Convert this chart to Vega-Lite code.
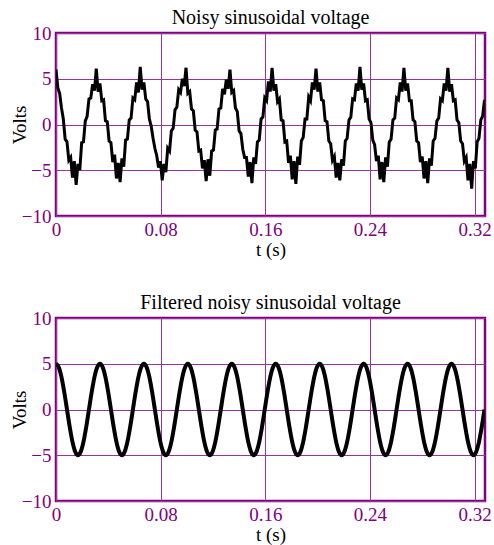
{
"$schema": "https://vega.github.io/schema/vega-lite/v6.json",
"padding": {"left": 9, "top": 6, "right": 6, "bottom": 0},
"spacing": 30,
"config": {
  "font": "Liberation Serif",
  "view": {"stroke": "#800080", "strokeWidth": 2.5},
  "axis": {"labelFont": "Liberation Serif", "labelFontSize": 19, "labelColor": "#800080", "titleFont": "Liberation Serif", "titleFontSize": 19, "titleFontWeight": "normal", "titleColor": "black", "ticks": false, "tickSize": 0, "domain": false, "gridColor": "#993399", "gridOpacity": 1, "gridWidth": 1, "labelFlush": false, "labelOverlap": false},
  "title": {"font": "Liberation Serif", "fontSize": 20, "fontWeight": "normal", "color": "black", "offset": -4, "frame": "group", "anchor": "middle"}
},
"vconcat": [
{
  "title": "Noisy sinusoidal voltage",
  "width": 429, "height": 183,
  "data": {"values": [
{"t":0,"v":6.0},{"t":0.0014,"v":4.0},{"t":0.0028,"v":3.4},{"t":0.0042,"v":1.8},{"t":0.0056,"v":0.6},{"t":0.007,"v":-1.6},{"t":0.0084,"v":-1.9},{"t":0.0098,"v":-3.9},{"t":0.0112,"v":-3.6},{"t":0.0126,"v":-5.8},
{"t":0.014,"v":-4.0},{"t":0.0154,"v":-6.6},{"t":0.0168,"v":-4.3},{"t":0.0182,"v":-5.0},{"t":0.0196,"v":-2.0},{"t":0.021,"v":-1.9},{"t":0.0224,"v":0.4},{"t":0.0238,"v":0.9},{"t":0.0252,"v":2.8},{"t":0.0266,"v":2.9},
{"t":0.028,"v":4.4},{"t":0.0294,"v":3.7},{"t":0.0308,"v":6.1},{"t":0.0322,"v":3.6},{"t":0.0336,"v":4.5},{"t":0.035,"v":2.6},{"t":0.0364,"v":2.7},{"t":0.0378,"v":0.4},{"t":0.0392,"v":0.3},{"t":0.0406,"v":-1.8},
{"t":0.042,"v":-2.0},{"t":0.0434,"v":-4.1},{"t":0.0448,"v":-3.3},{"t":0.0462,"v":-5.9},{"t":0.0476,"v":-4.2},{"t":0.049,"v":-6.3},{"t":0.0504,"v":-3.7},{"t":0.0518,"v":-4.6},{"t":0.0532,"v":-1.7},{"t":0.0546,"v":-1.6},
{"t":0.056,"v":0.5},{"t":0.0574,"v":0.7},{"t":0.0588,"v":2.9},{"t":0.0602,"v":2.7},{"t":0.0616,"v":4.6},{"t":0.063,"v":3.5},{"t":0.0644,"v":6.3},{"t":0.0658,"v":3.8},{"t":0.0672,"v":4.6},{"t":0.0686,"v":2.8},
{"t":0.07,"v":2.5},{"t":0.0714,"v":0.6},{"t":0.0728,"v":-0.2},{"t":0.0742,"v":-1.5},{"t":0.0756,"v":-2.6},{"t":0.077,"v":-3.4},{"t":0.0784,"v":-4.7},{"t":0.0798,"v":-4.0},{"t":0.0812,"v":-6.1},{"t":0.0826,"v":-4.3},
{"t":0.084,"v":-5.2},{"t":0.0854,"v":-2.6},{"t":0.0868,"v":-2.9},{"t":0.0882,"v":-0.7},{"t":0.0896,"v":-0.4},{"t":0.091,"v":1.6},{"t":0.0924,"v":1.9},{"t":0.0938,"v":3.8},{"t":0.0952,"v":3.5},{"t":0.0966,"v":5.0},
{"t":0.098,"v":4.2},{"t":0.0994,"v":6.2},{"t":0.1008,"v":3.4},{"t":0.1022,"v":3.6},{"t":0.1036,"v":1.7},{"t":0.105,"v":1.5},{"t":0.1064,"v":-0.6},{"t":0.1078,"v":-0.8},{"t":0.1092,"v":-2.9},{"t":0.1106,"v":-2.8},
{"t":0.112,"v":-4.8},{"t":0.1134,"v":-3.9},{"t":0.1148,"v":-6.2},{"t":0.1162,"v":-3.8},{"t":0.1176,"v":-5.6},{"t":0.119,"v":-2.9},{"t":0.1204,"v":-2.8},{"t":0.1218,"v":-0.6},{"t":0.1232,"v":-0.5},{"t":0.1246,"v":1.7},
{"t":0.126,"v":1.8},{"t":0.1274,"v":3.9},{"t":0.1288,"v":3.3},{"t":0.1302,"v":4.9},{"t":0.1316,"v":3.9},{"t":0.133,"v":6.0},{"t":0.1344,"v":3.5},{"t":0.1358,"v":3.7},{"t":0.1372,"v":1.8},{"t":0.1386,"v":1.4},
{"t":0.14,"v":-0.7},{"t":0.1414,"v":-1.0},{"t":0.1428,"v":-2.7},{"t":0.1442,"v":-3.6},{"t":0.1456,"v":-3.6},{"t":0.147,"v":-5.7},{"t":0.1484,"v":-4.1},{"t":0.1498,"v":-6.4},{"t":0.1512,"v":-3.6},{"t":0.1526,"v":-4.3},
{"t":0.154,"v":-1.9},{"t":0.1554,"v":-1.7},{"t":0.1568,"v":0.6},{"t":0.1582,"v":0.8},{"t":0.1596,"v":2.9},{"t":0.161,"v":2.6},{"t":0.1624,"v":4.7},{"t":0.1638,"v":3.6},{"t":0.1652,"v":6.2},{"t":0.1666,"v":3.7},
{"t":0.168,"v":4.4},{"t":0.1694,"v":2.5},{"t":0.1708,"v":2.8},{"t":0.1722,"v":0.5},{"t":0.1736,"v":0.4},{"t":0.175,"v":-1.9},{"t":0.1764,"v":-1.8},{"t":0.1778,"v":-4.2},{"t":0.1792,"v":-3.4},{"t":0.1806,"v":-6.0},
{"t":0.182,"v":-4.0},{"t":0.1834,"v":-6.5},{"t":0.1848,"v":-3.5},{"t":0.1862,"v":-4.4},{"t":0.1876,"v":-1.8},{"t":0.189,"v":-1.4},{"t":0.1904,"v":0.6},{"t":0.1918,"v":0.6},{"t":0.1932,"v":3.0},{"t":0.1946,"v":2.6},
{"t":0.196,"v":4.6},{"t":0.1974,"v":3.8},{"t":0.1988,"v":6.1},{"t":0.2002,"v":3.6},{"t":0.2016,"v":4.6},{"t":0.203,"v":2.7},{"t":0.2044,"v":2.6},{"t":0.2058,"v":0.4},{"t":0.2072,"v":0.3},{"t":0.2086,"v":-1.8},
{"t":0.21,"v":-2.1},{"t":0.2114,"v":-3.9},{"t":0.2128,"v":-3.5},{"t":0.2142,"v":-5.8},{"t":0.2156,"v":-4.2},{"t":0.217,"v":-6.1},{"t":0.2184,"v":-3.8},{"t":0.2198,"v":-4.5},{"t":0.2212,"v":-1.8},{"t":0.2226,"v":-1.5},
{"t":0.224,"v":0.5},{"t":0.2254,"v":0.8},{"t":0.2268,"v":2.8},{"t":0.2282,"v":2.7},{"t":0.2296,"v":4.5},{"t":0.231,"v":3.7},{"t":0.2324,"v":6.3},{"t":0.2338,"v":3.8},{"t":0.2352,"v":4.5},{"t":0.2366,"v":2.6},
{"t":0.238,"v":2.7},{"t":0.2394,"v":0.6},{"t":0.2408,"v":0.2},{"t":0.2422,"v":-1.7},{"t":0.2436,"v":-2.2},{"t":0.245,"v":-4.0},{"t":0.2464,"v":-3.4},{"t":0.2478,"v":-6.0},{"t":0.2492,"v":-4.1},{"t":0.2506,"v":-6.3},
{"t":0.252,"v":-3.6},{"t":0.2534,"v":-4.6},{"t":0.2548,"v":-1.9},{"t":0.2562,"v":-1.6},{"t":0.2576,"v":0.5},{"t":0.259,"v":0.7},{"t":0.2604,"v":2.9},{"t":0.2618,"v":2.7},{"t":0.2632,"v":4.6},{"t":0.2646,"v":3.6},
{"t":0.266,"v":6.2},{"t":0.2674,"v":3.7},{"t":0.2688,"v":4.5},{"t":0.2702,"v":2.6},{"t":0.2716,"v":2.6},{"t":0.273,"v":0.5},{"t":0.2744,"v":0.3},{"t":0.2758,"v":-1.8},{"t":0.2772,"v":-2.0},{"t":0.2786,"v":-4.1},
{"t":0.28,"v":-3.5},{"t":0.2814,"v":-5.9},{"t":0.2828,"v":-4.0},{"t":0.2842,"v":-6.4},{"t":0.2856,"v":-3.7},{"t":0.287,"v":-4.5},{"t":0.2884,"v":-1.8},{"t":0.2898,"v":-1.5},{"t":0.2912,"v":0.4},{"t":0.2926,"v":0.7},
{"t":0.294,"v":2.8},{"t":0.2954,"v":2.6},{"t":0.2968,"v":4.5},{"t":0.2982,"v":3.7},{"t":0.2996,"v":6.2},{"t":0.301,"v":3.6},{"t":0.3024,"v":4.4},{"t":0.3038,"v":2.6},{"t":0.3052,"v":2.7},{"t":0.3066,"v":0.5},
{"t":0.308,"v":0.2},{"t":0.3094,"v":-1.8},{"t":0.3108,"v":-2.1},{"t":0.3122,"v":-4.0},{"t":0.3136,"v":-3.6},{"t":0.315,"v":-6.1},{"t":0.3164,"v":-4.3},{"t":0.3178,"v":-7.0},{"t":0.3192,"v":-4.0},{"t":0.3206,"v":-4.8},
{"t":0.322,"v":-1.9},{"t":0.3234,"v":-1.5},{"t":0.3248,"v":0.5},{"t":0.3262,"v":0.9},{"t":0.3276,"v":2.7}
  ]},
  "mark": {"type": "line", "color": "black", "strokeWidth": 3, "clip": true},
  "encoding": {
    "x": {"field": "t", "type": "quantitative", "scale": {"domain": [0, 0.328], "nice": false, "zero": false}, "axis": {"values": [0, 0.08, 0.16, 0.24, 0.32], "format": "~f", "title": "t (s)", "labelPadding": 4, "titlePadding": 1}},
    "y": {"field": "v", "type": "quantitative", "scale": {"domain": [-10, 10], "nice": false}, "axis": {"values": [-10, -5, 0, 5, 10], "format": "~f", "title": "Volts", "labelPadding": 5, "titlePadding": -8}}
  }
},
{
  "title": "Filtered noisy sinusoidal voltage",
  "width": 429, "height": 183,
  "data": {"values": [
{"t":0,"v":5},{"t":0.0021,"v":4.62},{"t":0.0042,"v":3.54},{"t":0.0063,"v":1.91},{"t":0.0084,"v":0},{"t":0.0105,"v":-1.91},{"t":0.0126,"v":-3.54},{"t":0.0147,"v":-4.62},
{"t":0.0168,"v":-5},{"t":0.0189,"v":-4.62},{"t":0.021,"v":-3.54},{"t":0.0231,"v":-1.91},{"t":0.0252,"v":0},{"t":0.0273,"v":1.91},{"t":0.0294,"v":3.54},{"t":0.0315,"v":4.62},
{"t":0.0336,"v":5},{"t":0.0357,"v":4.62},{"t":0.0378,"v":3.54},{"t":0.0399,"v":1.91},{"t":0.042,"v":0},{"t":0.0441,"v":-1.91},{"t":0.0462,"v":-3.54},{"t":0.0483,"v":-4.62},
{"t":0.0504,"v":-5},{"t":0.0525,"v":-4.62},{"t":0.0546,"v":-3.54},{"t":0.0567,"v":-1.91},{"t":0.0588,"v":0},{"t":0.0609,"v":1.91},{"t":0.063,"v":3.54},{"t":0.0651,"v":4.62},
{"t":0.0672,"v":5},{"t":0.0693,"v":4.62},{"t":0.0714,"v":3.54},{"t":0.0735,"v":1.91},{"t":0.0756,"v":0},{"t":0.0777,"v":-1.91},{"t":0.0798,"v":-3.54},{"t":0.0819,"v":-4.62},
{"t":0.084,"v":-5},{"t":0.0861,"v":-4.62},{"t":0.0882,"v":-3.54},{"t":0.0903,"v":-1.91},{"t":0.0924,"v":0},{"t":0.0945,"v":1.91},{"t":0.0966,"v":3.54},{"t":0.0987,"v":4.62},
{"t":0.1008,"v":5},{"t":0.1029,"v":4.62},{"t":0.105,"v":3.54},{"t":0.1071,"v":1.91},{"t":0.1092,"v":0},{"t":0.1113,"v":-1.91},{"t":0.1134,"v":-3.54},{"t":0.1155,"v":-4.62},
{"t":0.1176,"v":-5},{"t":0.1197,"v":-4.62},{"t":0.1218,"v":-3.54},{"t":0.1239,"v":-1.91},{"t":0.126,"v":0},{"t":0.1281,"v":1.91},{"t":0.1302,"v":3.54},{"t":0.1323,"v":4.62},
{"t":0.1344,"v":5},{"t":0.1365,"v":4.62},{"t":0.1386,"v":3.54},{"t":0.1407,"v":1.91},{"t":0.1428,"v":0},{"t":0.1449,"v":-1.91},{"t":0.147,"v":-3.54},{"t":0.1491,"v":-4.62},
{"t":0.1512,"v":-5},{"t":0.1533,"v":-4.62},{"t":0.1554,"v":-3.54},{"t":0.1575,"v":-1.91},{"t":0.1596,"v":0},{"t":0.1617,"v":1.91},{"t":0.1638,"v":3.54},{"t":0.1659,"v":4.62},
{"t":0.168,"v":5},{"t":0.1701,"v":4.62},{"t":0.1722,"v":3.54},{"t":0.1743,"v":1.91},{"t":0.1764,"v":0},{"t":0.1785,"v":-1.91},{"t":0.1806,"v":-3.54},{"t":0.1827,"v":-4.62},
{"t":0.1848,"v":-5},{"t":0.1869,"v":-4.62},{"t":0.189,"v":-3.54},{"t":0.1911,"v":-1.91},{"t":0.1932,"v":0},{"t":0.1953,"v":1.91},{"t":0.1974,"v":3.54},{"t":0.1995,"v":4.62},
{"t":0.2016,"v":5},{"t":0.2037,"v":4.62},{"t":0.2058,"v":3.54},{"t":0.2079,"v":1.91},{"t":0.21,"v":0},{"t":0.2121,"v":-1.91},{"t":0.2142,"v":-3.54},{"t":0.2163,"v":-4.62},
{"t":0.2184,"v":-5},{"t":0.2205,"v":-4.62},{"t":0.2226,"v":-3.54},{"t":0.2247,"v":-1.91},{"t":0.2268,"v":0},{"t":0.2289,"v":1.91},{"t":0.231,"v":3.54},{"t":0.2331,"v":4.62},
{"t":0.2352,"v":5},{"t":0.2373,"v":4.62},{"t":0.2394,"v":3.54},{"t":0.2415,"v":1.91},{"t":0.2436,"v":0},{"t":0.2457,"v":-1.91},{"t":0.2478,"v":-3.54},{"t":0.2499,"v":-4.62},
{"t":0.252,"v":-5},{"t":0.2541,"v":-4.62},{"t":0.2562,"v":-3.54},{"t":0.2583,"v":-1.91},{"t":0.2604,"v":0},{"t":0.2625,"v":1.91},{"t":0.2646,"v":3.54},{"t":0.2667,"v":4.62},
{"t":0.2688,"v":5},{"t":0.2709,"v":4.62},{"t":0.273,"v":3.54},{"t":0.2751,"v":1.91},{"t":0.2772,"v":0},{"t":0.2793,"v":-1.91},{"t":0.2814,"v":-3.54},{"t":0.2835,"v":-4.62},
{"t":0.2856,"v":-5},{"t":0.2877,"v":-4.62},{"t":0.2898,"v":-3.54},{"t":0.2919,"v":-1.91},{"t":0.294,"v":0},{"t":0.2961,"v":1.91},{"t":0.2982,"v":3.54},{"t":0.3003,"v":4.62},
{"t":0.3024,"v":5},{"t":0.3045,"v":4.62},{"t":0.3066,"v":3.54},{"t":0.3087,"v":1.91},{"t":0.3108,"v":0},{"t":0.3129,"v":-1.91},{"t":0.315,"v":-3.54},{"t":0.3171,"v":-4.62},
{"t":0.3192,"v":-5},{"t":0.3213,"v":-4.62},{"t":0.3234,"v":-3.54},{"t":0.3255,"v":-1.91},{"t":0.3276,"v":0}
  ]},
  "mark": {"type": "line", "color": "black", "strokeWidth": 4, "interpolate": "monotone", "clip": true},
  "encoding": {
    "x": {"field": "t", "type": "quantitative", "scale": {"domain": [0, 0.328], "nice": false, "zero": false}, "axis": {"values": [0, 0.08, 0.16, 0.24, 0.32], "format": "~f", "title": "t (s)", "labelPadding": 4, "titlePadding": 1}},
    "y": {"field": "v", "type": "quantitative", "scale": {"domain": [-10, 10], "nice": false}, "axis": {"values": [-10, -5, 0, 5, 10], "format": "~f", "title": "Volts", "labelPadding": 5, "titlePadding": -8}}
  }
}
]
}
